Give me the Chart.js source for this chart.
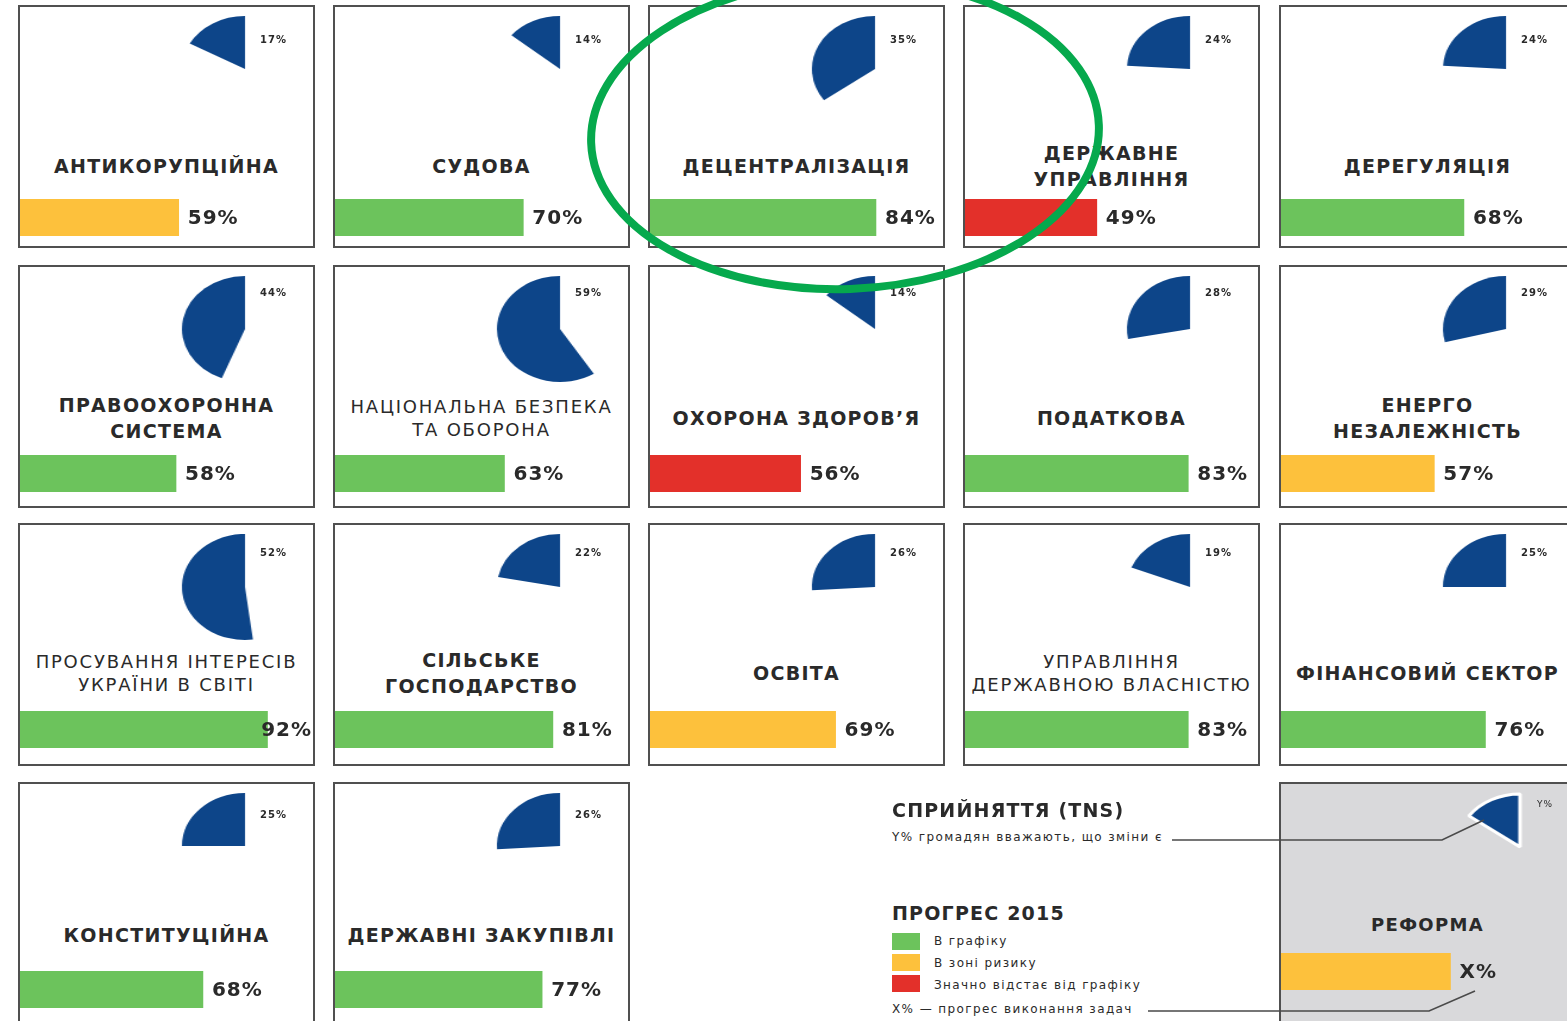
<!DOCTYPE html>
<html lang="uk">
<head>
<meta charset="utf-8">
<title>Прогрес реформ 2015</title>
<script src="https://cdn.jsdelivr.net/npm/chart.js@4.4.1/dist/chart.umd.min.js"></script>
<style>
  body { margin: 0; background: #fff; font-family: "DejaVu Sans", sans-serif; color: #2a2a2a; overflow: hidden; }
  #board { position: relative; width: 1567px; height: 1021px; overflow: hidden; }
  .tile { position: absolute; width: 297px; height: 243px; box-sizing: border-box; border: 2px solid #505050; background: #fff; }
  .tile.reform { background: #d9d9db; }
  .pie { position: absolute; width: 120px; height: 120px; transform: scaleX(1.19); }
  .pct { position: absolute; font-size: 10px; line-height: 12px; font-weight: bold; letter-spacing: 1px; white-space: nowrap; }
  .title { position: absolute; left: 0; width: 293px; text-align: center; font-size: 19px; font-weight: bold;
           letter-spacing: 1.3px; line-height: 26px; white-space: nowrap; }
  .title.thin { font-weight: normal; font-size: 18px; letter-spacing: 1.8px; line-height: 23px; }
  .bar { position: absolute; left: 0; }
  .lg { position: absolute; white-space: nowrap; }
  .lg.head { font-size: 19px; font-weight: bold; letter-spacing: 1.2px; }
  .lg.small { font-size: 12px; letter-spacing: 1.4px; }
  .swatch { position: absolute; width: 28px; height: 17px; }
  svg { position: absolute; left: 0; top: 0; pointer-events: none; }
</style>
</head>
<body>
<div id="board"></div>

<script>
// sectors, left to right, top to bottom
const sectors = [
  "АНТИКОРУПЦІЙНА", "СУДОВА", "ДЕЦЕНТРАЛІЗАЦІЯ", "ДЕРЖАВНЕ\nУПРАВЛІННЯ", "ДЕРЕГУЛЯЦІЯ",
  "ПРАВООХОРОННА\nСИСТЕМА", "НАЦІОНАЛЬНА БЕЗПЕКА\nТА ОБОРОНА", "ОХОРОНА ЗДОРОВ’Я", "ПОДАТКОВА", "ЕНЕРГО\nНЕЗАЛЕЖНІСТЬ",
  "ПРОСУВАННЯ ІНТЕРЕСІВ\nУКРАЇНИ В СВІТІ", "СІЛЬСЬКЕ\nГОСПОДАРСТВО", "ОСВІТА", "УПРАВЛІННЯ\nДЕРЖАВНОЮ ВЛАСНІСТЮ", "ФІНАНСОВИЙ СЕКТОР",
  "КОНСТИТУЦІЙНА", "ДЕРЖАВНІ ЗАКУПІВЛІ"
];
// Y% - citizens who see changes (TNS)
const perception = [17, 14, 35, 24, 24, 44, 59, 14, 28, 29, 52, 22, 26, 19, 25, 25, 26];
// X% - progress of tasks, 2015
const progress = [59, 70, 84, 49, 68, 58, 63, 56, 83, 57, 92, 81, 69, 83, 76, 68, 77];
const status = ["risk", "ok", "ok", "late", "ok", "ok", "ok", "late", "ok", "risk",
                "ok", "ok", "risk", "ok", "ok", "ok", "ok"];

// legend
const statusKeys = ["ok", "risk", "late"];
const statusNames = ["В графіку", "В зоні ризику", "Значно відстає від графіку"];
const samplePerception = 15;
const sampleProgress = 63;

const colors = { ok: "#6cc35c", risk: "#fdc13c", late: "#e3302a" };
const BLUE = "#0d4589";
const thinTitles = [6, 10, 13];

// grid layout (outer coordinates of tiles)
const colLeft = [18, 333, 648, 963, 1279];
const rowTop = [5, 265, 523, 782];
const rowTitleY = [159, 151, 148, 151];
const rowBarY = [192, 188, 186, 187];
const rowPctY = [27, 20, 22, 25];

const board = document.getElementById("board");

const barLabel = {
  id: "barLabel",
  afterDatasetsDraw(chart, args, opts) {
    const el = chart.getDatasetMeta(0).data[0];
    const txt = opts.text || chart.data.datasets[0].data[0] + "%";
    const ctx = chart.ctx;
    ctx.save();
    ctx.font = opts.font || "bold 20px 'DejaVu Sans'";
    ctx.letterSpacing = "1px";
    const w = ctx.measureText(txt).width;
    const x = Math.min(el.x + 9, chart.width - w - 1);
    ctx.fillStyle = "#2a2a2a";
    ctx.textBaseline = "middle";
    ctx.fillText(txt, x, el.y + 1);
    ctx.restore();
  }
};

function makePie(parent, value, cx, cy, border) {
  const c = document.createElement("canvas");
  c.className = "pie";
  c.width = 120; c.height = 120;
  c.style.left = (cx - 60) + "px";
  c.style.top = (cy - 60) + "px";
  parent.appendChild(c);
  return new Chart(c, {
    type: "pie",
    data: {
      labels: ["так", "ні"],
      datasets: [{
        data: [value, 100 - value],
        backgroundColor: [BLUE, "rgba(0,0,0,0)"],
        borderColor: "#fff",
        borderWidth: [border, 0]
      }]
    },
    options: {
      responsive: false, animation: false, events: [],
      rotation: -value * 3.6, radius: 53,
      plugins: { legend: { display: false }, tooltip: { enabled: false } }
    }
  });
}

function makeBar(parent, name, value, color, top, text) {
  const c = document.createElement("canvas");
  c.className = "bar";
  c.width = 293; c.height = 37;
  c.style.top = top + "px";
  parent.appendChild(c);
  return new Chart(c, {
    type: "bar",
    data: {
      labels: [name],
      datasets: [{ data: [value], backgroundColor: color, borderWidth: 0, barPercentage: 1, categoryPercentage: 1 }]
    },
    options: {
      indexAxis: "y", responsive: false, animation: false, events: [],
      layout: { padding: { left: 0, right: 24, top: 0, bottom: 0 } },
      scales: { x: { min: 0, max: 100, display: false }, y: { display: false } },
      plugins: { legend: { display: false }, tooltip: { enabled: false }, barLabel: { text: text } }
    },
    plugins: [barLabel]
  });
}

function addText(parent, cls, txt, left, top, extra) {
  const d = document.createElement("div");
  d.className = cls;
  d.textContent = txt;
  d.style.left = left + "px";
  d.style.top = top + "px";
  if (extra) Object.assign(d.style, extra);
  parent.appendChild(d);
  return d;
}

sectors.forEach((name, i) => {
  const col = i % 5, row = Math.floor(i / 5);
  const tile = document.createElement("div");
  tile.className = "tile";
  tile.style.left = colLeft[col] + "px";
  tile.style.top = rowTop[row] + "px";
  board.appendChild(tile);

  makePie(tile, perception[i], 225, 62, 0);
  addText(tile, "pct", perception[i] + "%", 240, rowPctY[row]);

  const lines = name.split("\n");
  const t = document.createElement("div");
  const thin = thinTitles.includes(i);
  t.className = thin ? "title thin" : "title";
  const lh = thin ? 23 : 26;
  t.innerHTML = lines.join("<br>");
  t.style.top = (rowTitleY[row] - lines.length * lh / 2) + "px";
  tile.appendChild(t);

  makeBar(tile, name.replace("\n", " "), progress[i], colors[status[i]], rowBarY[row]);
});

// sample tile
const reform = document.createElement("div");
reform.className = "tile reform";
reform.style.left = colLeft[4] + "px";
reform.style.top = rowTop[3] + "px";
board.appendChild(reform);
makePie(reform, samplePerception, 239, 63, 3);
addText(reform, "pct", "Y%", 256, 14, { fontWeight: "normal", fontSize: "9px" });
const rt = document.createElement("div");
rt.className = "title";
rt.textContent = "РЕФОРМА";
rt.style.top = "128px";
rt.style.fontSize = "18px";
reform.appendChild(rt);
makeBar(reform, "РЕФОРМА", sampleProgress, colors.risk, 169, "X%");

// legend
addText(board, "lg head", "СПРИЙНЯТТЯ (TNS)", 892, 799);
addText(board, "lg small", "Y% громадян вважають, що зміни є", 892, 830);
addText(board, "lg head", "ПРОГРЕС 2015", 892, 902);
statusKeys.forEach((k, j) => {
  const s = document.createElement("div");
  s.className = "swatch";
  s.style.left = "892px";
  s.style.top = (933 + j * 21) + "px";
  s.style.background = colors[k];
  board.appendChild(s);
  addText(board, "lg small", statusNames[j], 934, 934 + j * 22);
});
addText(board, "lg small", "X% — прогрес виконання задач", 892, 1002);

// connectors and highlight
const svgNS = "http://www.w3.org/2000/svg";
const svg = document.createElementNS(svgNS, "svg");
svg.setAttribute("width", 1567);
svg.setAttribute("height", 1021);
svg.innerHTML = `
  <polyline points="1172,840 1442,840 1484,820" fill="none" stroke="#4a4a4a" stroke-width="1.6"/>
  <polyline points="1148,1011 1429,1011 1475,991" fill="none" stroke="#4a4a4a" stroke-width="1.6"/>
  <ellipse cx="845" cy="134" rx="254" ry="155" fill="none" stroke="#06a94d" stroke-width="8" transform="rotate(-2 845 134)"/>
`;
board.appendChild(svg);
</script>
</body>
</html>
